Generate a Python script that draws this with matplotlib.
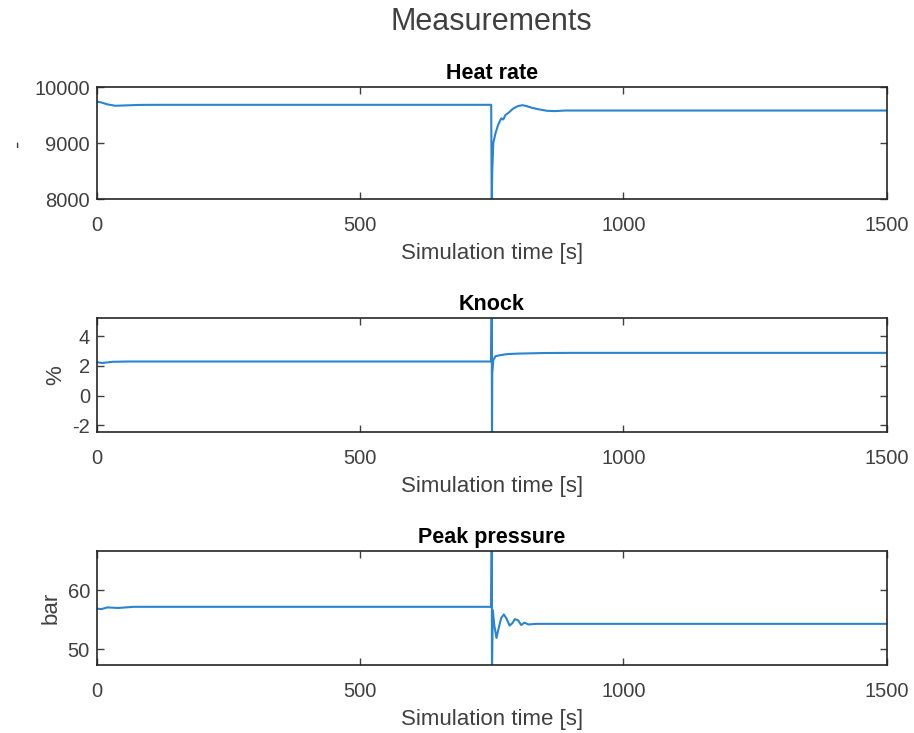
import numpy as np
import matplotlib.pyplot as plt

plt.rcParams['font.family'] = ['Liberation Sans', 'DejaVu Sans']
plt.rcParams['axes.unicode_minus'] = False

# Heat rate [-]
hr_t = [0, 8, 20, 35, 50, 80, 120, 749, 750, 751, 753, 757, 762, 768, 772, 776, 782,
        790, 800, 808, 816, 826, 840, 855, 870, 890, 1500]
hr_v = [9740, 9725, 9690, 9665, 9670, 9680, 9682, 9682, 7800, 8500, 9000, 9170, 9320,
        9440, 9420, 9500, 9540, 9610, 9660, 9675, 9660, 9630, 9600, 9575, 9570, 9580, 9580]

# Knock [%]
kn_t = [0, 10, 30, 60, 749, 750, 750.5, 751, 753, 757, 765, 780, 800, 850, 900, 1500]
kn_v = [2.25, 2.2, 2.28, 2.3, 2.3, 6.5, -3.5, 1.5, 2.4, 2.65, 2.72, 2.8, 2.83, 2.87, 2.88, 2.88]

# Peak pressure [bar]
pp_t = [0, 8, 20, 40, 70, 749, 750, 750.5, 752, 755, 759, 763, 768, 773, 778, 784, 789,
        794, 800, 806, 812, 820, 835, 857, 880, 1500]
pp_v = [56.9, 56.8, 57.1, 57.0, 57.2, 57.2, 68.0, 46.0, 56.6, 54.0, 51.9, 53.5, 55.3,
        55.9, 55.2, 54.0, 54.4, 55.1, 54.9, 54.1, 54.5, 54.2, 54.3, 54.3, 54.3, 54.3]

x_ticks = [0, 500, 1000, 1500]

panels = [
    ("Heat rate", "-", hr_t, hr_v, (8000, 10000), [8000, 9000, 10000]),
    ("Knock", "%", kn_t, kn_v, (-2.44, 5.22), [-2, 0, 2, 4]),
    ("Peak pressure", "bar", pp_t, pp_v, (47.3, 66.7), [50, 60]),
]

# axes rectangles in figure fraction (left, bottom, width, height)
rects = [
    (0.106, 0.7285, 0.864, 0.1528),
    (0.106, 0.4106, 0.864, 0.1555),
    (0.106, 0.0928, 0.864, 0.1555),
]

fig = plt.figure(figsize=(9.14, 7.33), dpi=100)
txt = '#262626'
line_c = '#2a84cf'

for (title, ylab, t, v, ylim, yt), r in zip(panels, rects):
    ax = fig.add_axes(r)
    ax.plot(t, v, color=line_c, lw=1.5)
    ax.set_xlim(0, 1500)
    ax.set_ylim(*ylim)
    ax.set_xticks(x_ticks)
    ax.set_yticks(yt)
    ax.tick_params(direction='in', top=True, right=True, length=5, width=1,
                   labelsize=14.5, colors='#404040')
    ax.tick_params(axis='x', pad=12)
    ax.tick_params(axis='y', pad=5)
    for s in ax.spines.values():
        s.set_color(txt)
        s.set_linewidth(1.2)
    ax.set_xlabel("Simulation time [s]", fontsize=16, color='#404040', labelpad=6)
    ax.set_ylabel(ylab, fontsize=16, color='#404040')
    ax.set_title(title, fontsize=15.5, fontweight='bold', color='black', pad=6)

fig.suptitle("Measurements", fontsize=22, color='#404040', x=0.538, y=0.99)
fig.savefig("out.png", dpi=100)
